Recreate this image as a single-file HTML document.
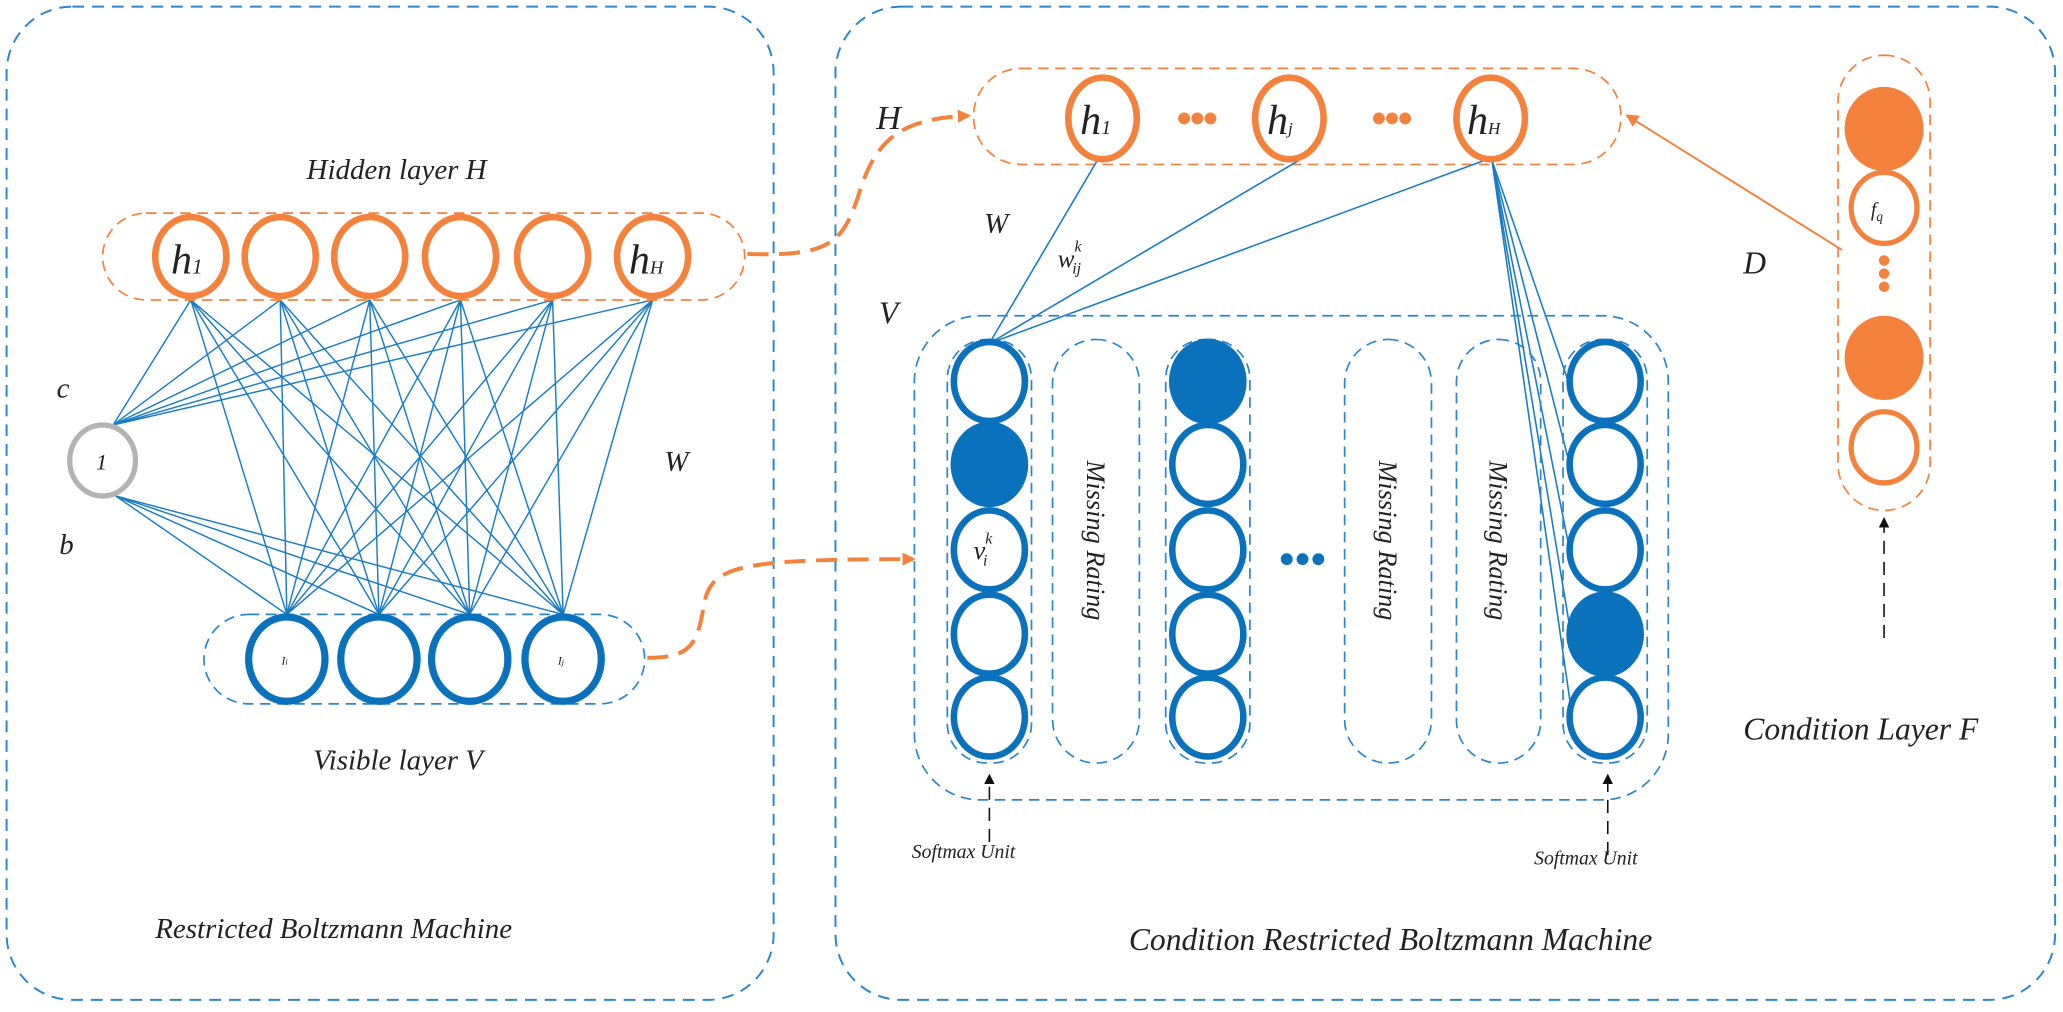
<!DOCTYPE html>
<html><head><meta charset="utf-8"><style>
html,body{margin:0;padding:0;background:#fff;}
svg{display:block;}
text{font-family:"Liberation Serif",serif;font-style:italic;fill:#222;}
</style></head><body>
<svg width="2063" height="1012" viewBox="0 0 1568 769.2" preserveAspectRatio="none" xmlns="http://www.w3.org/2000/svg">
<defs>
<marker id="ao" markerWidth="10" markerHeight="10" refX="8" refY="5" orient="auto" markerUnits="userSpaceOnUse"><path d="M0,0 L10,5 L0,10 z" fill="#f4823c"/></marker>
<marker id="ab" markerWidth="8" markerHeight="12" refX="6" refY="4" orient="auto" markerUnits="userSpaceOnUse"><path d="M0,0 L8,4 L0,8 z" fill="#111"/></marker>
</defs>
<!-- panels -->
<rect x="5" y="5" width="583" height="755" rx="50" fill="none" stroke="#2e86c8" stroke-width="1.5" stroke-dasharray="9,6"/>
<rect x="635" y="5" width="927" height="755" rx="50" fill="none" stroke="#2e86c8" stroke-width="1.5" stroke-dasharray="9,6"/>

<!-- left network lines -->
<g stroke="#1a7cc2" stroke-width="1.1">
<line x1="145" y1="228" x2="218" y2="467"/><line x1="145" y1="228" x2="288" y2="467"/><line x1="145" y1="228" x2="357" y2="467"/><line x1="145" y1="228" x2="428" y2="467"/>
<line x1="213" y1="228" x2="218" y2="467"/><line x1="213" y1="228" x2="288" y2="467"/><line x1="213" y1="228" x2="357" y2="467"/><line x1="213" y1="228" x2="428" y2="467"/>
<line x1="281" y1="228" x2="218" y2="467"/><line x1="281" y1="228" x2="288" y2="467"/><line x1="281" y1="228" x2="357" y2="467"/><line x1="281" y1="228" x2="428" y2="467"/>
<line x1="350" y1="228" x2="218" y2="467"/><line x1="350" y1="228" x2="288" y2="467"/><line x1="350" y1="228" x2="357" y2="467"/><line x1="350" y1="228" x2="428" y2="467"/>
<line x1="420" y1="228" x2="218" y2="467"/><line x1="420" y1="228" x2="288" y2="467"/><line x1="420" y1="228" x2="357" y2="467"/><line x1="420" y1="228" x2="428" y2="467"/>
<line x1="496" y1="228" x2="218" y2="467"/><line x1="496" y1="228" x2="288" y2="467"/><line x1="496" y1="228" x2="357" y2="467"/><line x1="496" y1="228" x2="428" y2="467"/>
<line x1="86" y1="323" x2="145" y2="228"/><line x1="86" y1="323" x2="213" y2="228"/><line x1="86" y1="323" x2="281" y2="228"/><line x1="86" y1="323" x2="350" y2="228"/><line x1="86" y1="323" x2="420" y2="228"/><line x1="86" y1="323" x2="496" y2="228"/>
<line x1="88" y1="377" x2="218" y2="467"/><line x1="88" y1="377" x2="288" y2="467"/><line x1="88" y1="377" x2="357" y2="467"/><line x1="88" y1="377" x2="428" y2="467"/>
</g>
<!-- hidden layer left -->
<rect x="78" y="162" width="488" height="66" rx="33" fill="none" stroke="#f4823c" stroke-width="1.3" stroke-dasharray="8,5"/>
<g fill="#fff" stroke="#f4823c" stroke-width="5">
<ellipse cx="145" cy="195" rx="27" ry="30"/><ellipse cx="213" cy="195" rx="27" ry="30"/><ellipse cx="281" cy="195" rx="27" ry="30"/><ellipse cx="350" cy="195" rx="27" ry="30"/><ellipse cx="420" cy="195" rx="27" ry="30"/><ellipse cx="496" cy="195" rx="27" ry="30"/>
</g>
<text x="130" y="208" font-size="32">h<tspan font-size="16">1</tspan></text>
<text x="478" y="208" font-size="32">h<tspan font-size="14">H</tspan></text>
<ellipse cx="78" cy="350" rx="25" ry="27" fill="#fff" stroke="#b3b3b3" stroke-width="4"/>
<text x="73" y="357" font-size="17" font-style="normal">1</text>
<text x="233" y="136" font-size="22">Hidden layer H</text>
<text x="43" y="302" font-size="22">c</text>
<text x="45" y="421" font-size="22">b</text>
<text x="505" y="358" font-size="22">W</text>
<!-- visible left -->
<rect x="155" y="467" width="335" height="68" rx="34" fill="none" stroke="#2e86c8" stroke-width="1.3" stroke-dasharray="8,5"/>
<g fill="#fff" stroke="#0a72bd" stroke-width="5.5">
<ellipse cx="218" cy="501" rx="29" ry="32"/><ellipse cx="288" cy="501" rx="29" ry="32"/><ellipse cx="357" cy="501" rx="29" ry="32"/><ellipse cx="428" cy="501" rx="29" ry="32"/>
</g>
<text x="214" y="505" font-size="9" fill="#999">I<tspan font-size="6">i</tspan></text>
<text x="424" y="505" font-size="9" fill="#999">I<tspan font-size="6">j</tspan></text>
<text x="238" y="585" font-size="22">Visible layer V</text>
<text x="118" y="713" font-size="22">Restricted Boltzmann Machine</text>

<!-- orange connectors -->
<path d="M568,193 C630,195 640,185 652,150 C664,110 680,90 736,88" fill="none" stroke="#f4823c" stroke-width="3" stroke-dasharray="16,8" marker-end="url(#ao)"/>
<path d="M492,500 C525,500 530,490 535,460 C540,430 560,425 694,425" fill="none" stroke="#f4823c" stroke-width="3" stroke-dasharray="16,8" marker-end="url(#ao)"/>

<!-- right H -->
<rect x="740" y="52" width="492" height="73" rx="36" fill="none" stroke="#f4823c" stroke-width="1.3" stroke-dasharray="8,5"/>
<g stroke="#1a7cc2" stroke-width="1.2">
<line x1="834" y1="122" x2="752" y2="261"/><line x1="987" y1="122" x2="752" y2="261"/><line x1="1128" y1="122" x2="752" y2="261"/>
<line x1="1134" y1="122" x2="1192" y2="290"/><line x1="1134" y1="122" x2="1193" y2="353"/><line x1="1134" y1="122" x2="1193" y2="418"/><line x1="1134" y1="122" x2="1194" y2="482"/><line x1="1134" y1="122" x2="1195" y2="545"/>
</g>
<g fill="#fff" stroke="#f4823c" stroke-width="5">
<ellipse cx="838" cy="90" rx="26" ry="31"/><ellipse cx="980" cy="90" rx="26" ry="31"/><ellipse cx="1133" cy="90" rx="26" ry="31"/>
</g>
<text x="821" y="102" font-size="32">h<tspan font-size="15">1</tspan></text>
<text x="963" y="102" font-size="32">h<tspan font-size="13">j</tspan></text>
<text x="1115" y="102" font-size="32">h<tspan font-size="13">H</tspan></text>
<g fill="#f4823c"><circle cx="900" cy="90" r="4.5"/><circle cx="910" cy="90" r="4.5"/><circle cx="920" cy="90" r="4.5"/><circle cx="1048" cy="90" r="4.5"/><circle cx="1058" cy="90" r="4.5"/><circle cx="1068" cy="90" r="4.5"/></g>
<text x="666" y="98" font-size="26">H</text>
<text x="748" y="177" font-size="22">W</text>
<text x="804" y="203" font-size="19">w<tspan font-size="12" dy="-12">k</tspan><tspan font-size="12" dx="-7" dy="17">ij</tspan></text>
<text x="668" y="246" font-size="24">V</text>

<!-- V box -->
<rect x="695" y="240" width="573" height="368" rx="50" fill="none" stroke="#2e86c8" stroke-width="1.3" stroke-dasharray="8,5"/>
<g fill="none" stroke="#2e86c8" stroke-width="1.3" stroke-dasharray="8,5">
<rect x="720" y="258" width="64" height="322" rx="30"/>
<rect x="800" y="258" width="66" height="322" rx="33"/>
<rect x="886" y="258" width="64" height="322" rx="30"/>
<rect x="1022" y="258" width="66" height="322" rx="33"/>
<rect x="1107" y="258" width="64" height="322" rx="32"/>
<rect x="1188" y="258" width="64" height="322" rx="30"/>
</g>
<g fill="#fff" stroke="#0a72bd" stroke-width="5">
<ellipse cx="752" cy="290" rx="27" ry="30"/><ellipse cx="752" cy="353" rx="27" ry="30" fill="#0a72bd"/><ellipse cx="752" cy="418" rx="27" ry="30"/><ellipse cx="752" cy="482" rx="27" ry="30"/><ellipse cx="752" cy="545" rx="27" ry="30"/>
<ellipse cx="918" cy="290" rx="27" ry="30" fill="#0a72bd"/><ellipse cx="918" cy="353" rx="27" ry="30"/><ellipse cx="918" cy="418" rx="27" ry="30"/><ellipse cx="918" cy="482" rx="27" ry="30"/><ellipse cx="918" cy="545" rx="27" ry="30"/>
<ellipse cx="1220" cy="290" rx="27" ry="30"/><ellipse cx="1220" cy="353" rx="27" ry="30"/><ellipse cx="1220" cy="418" rx="27" ry="30"/><ellipse cx="1220" cy="482" rx="27" ry="30" fill="#0a72bd"/><ellipse cx="1220" cy="545" rx="27" ry="30"/>
</g>
<text x="740" y="425" font-size="20">v<tspan font-size="12" dy="-12">k</tspan><tspan font-size="12" dx="-7" dy="17">i</tspan></text>
<g fill="#0a72bd"><circle cx="978" cy="425" r="4.5"/><circle cx="990" cy="425" r="4.5"/><circle cx="1002" cy="425" r="4.5"/></g>
<g font-size="20">
<text transform="translate(826,350) rotate(90)">Missing Rating</text>
<text transform="translate(1048,350) rotate(90)">Missing Rating</text>
<text transform="translate(1132,350) rotate(90)">Missing Rating</text>
</g>
<!-- softmax -->
<line x1="752" y1="640" x2="752" y2="590" stroke="#111" stroke-width="1.2" stroke-dasharray="10,6" marker-end="url(#ab)"/>
<line x1="1222" y1="650" x2="1222" y2="590" stroke="#111" stroke-width="1.2" stroke-dasharray="10,6" marker-end="url(#ab)"/>
<text x="693" y="652" font-size="15">Softmax Unit</text>
<text x="1166" y="657" font-size="15">Softmax Unit</text>

<!-- Condition layer -->
<rect x="1397" y="42" width="70" height="346" rx="35" fill="none" stroke="#f4823c" stroke-width="1.3" stroke-dasharray="8,5"/>
<g stroke="#f4823c" stroke-width="4" fill="#fff">
<ellipse cx="1432" cy="98" rx="28" ry="30" fill="#f4823c"/><ellipse cx="1432" cy="158" rx="25" ry="27"/><ellipse cx="1432" cy="272" rx="28" ry="30" fill="#f4823c"/><ellipse cx="1432" cy="340" rx="25" ry="27"/>
</g>
<g fill="#f4823c"><circle cx="1432" cy="198" r="4"/><circle cx="1432" cy="208" r="4"/><circle cx="1432" cy="218" r="4"/></g>
<text x="1422" y="164" font-size="15">f<tspan font-size="10" dy="4">q</tspan></text>
<line x1="1400" y1="190" x2="1237" y2="88" stroke="#f4823c" stroke-width="1.5" marker-end="url(#ao)"/>
<text x="1325" y="208" font-size="24">D</text>
<line x1="1432" y1="485" x2="1432" y2="395" stroke="#111" stroke-width="1.2" stroke-dasharray="10,6" marker-end="url(#ab)"/>
<text x="1325" y="562" font-size="24">Condition Layer F</text>
<text x="858" y="722" font-size="24">Condition Restricted Boltzmann Machine</text>
</svg>
</body></html>
